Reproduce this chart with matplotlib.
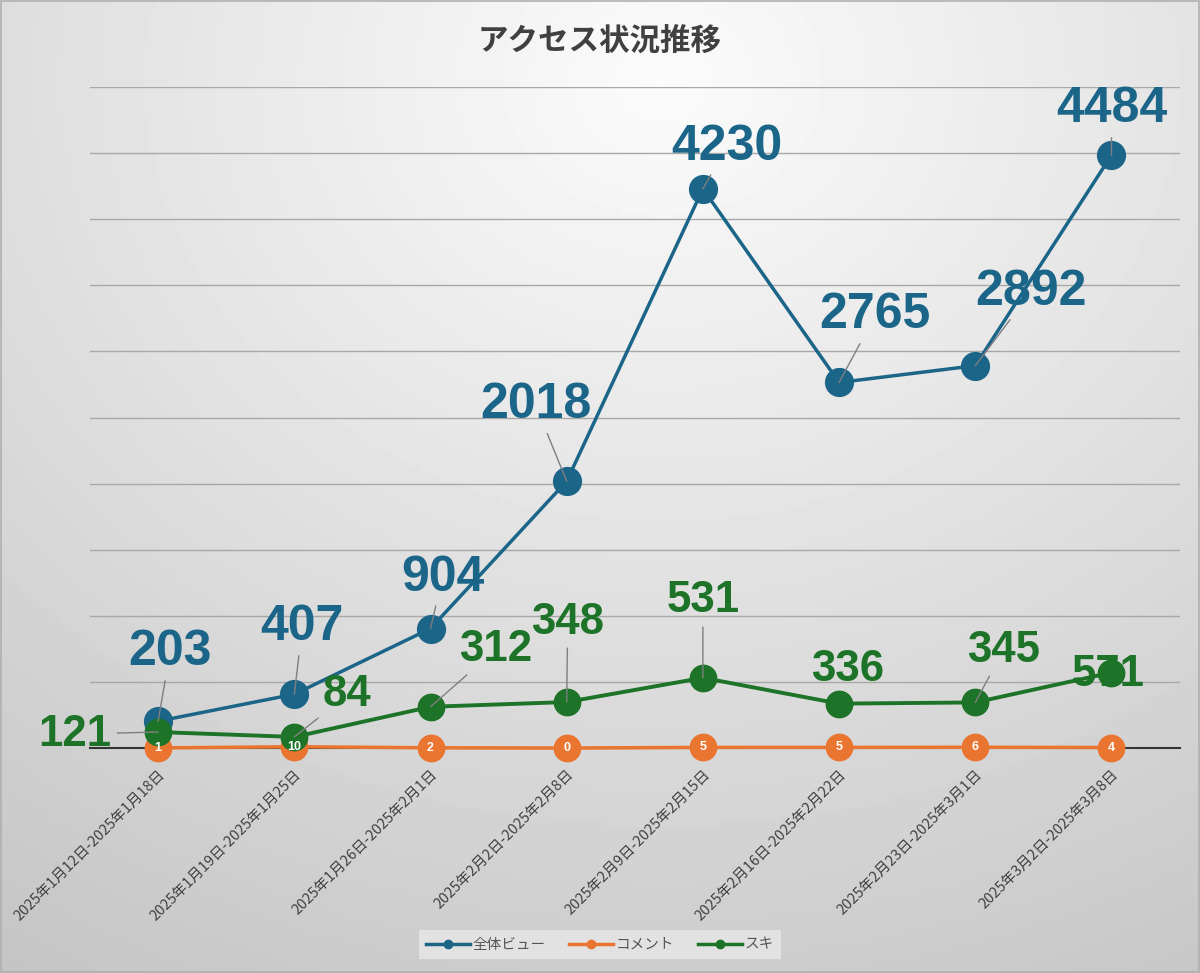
import numpy as np
import matplotlib.pyplot as plt
from matplotlib.lines import Line2D

plt.rcParams['font.family'] = ['Noto Sans CJK JP', 'DejaVu Sans']

# data
weeks = ['2025年1月12日-2025年1月18日', '2025年1月19日-2025年1月25日',
         '2025年1月26日-2025年2月1日', '2025年2月2日-2025年2月8日',
         '2025年2月9日-2025年2月15日', '2025年2月16日-2025年2月22日',
         '2025年2月23日-2025年3月1日', '2025年3月2日-2025年3月8日']
views = [203, 407, 904, 2018, 4230, 2765, 2892, 4484]
comments = [1, 10, 2, 0, 5, 5, 6, 4]
likes = [121, 84, 312, 348, 531, 336, 345, 571]

c_blue = '#1b6589'
c_orange = '#ea7530'
c_green = '#1d7328'

# label offsets in pixels (layout only)
views_off = [(12, 69), (8, 67), (12, 51), (-31, 76), (24, 42), (36, 67), (56, 74), (0, 46)]
likes_off = [(-83, -2), (53, 42), (65, 57), (1, 80), (0, 77), (9, 34), (28, 52), (-3, -2)]

fig = plt.figure(figsize=(12, 9.73), dpi=100)

# background gradient
bg = fig.add_axes([0, 0, 1, 1], zorder=-10)
h, w = 200, 240
yy, xx = np.mgrid[0:h, 0:w]
r = np.sqrt(((xx / w) - 0.55) ** 2 + (((yy / h) - 0.08) * 0.95) ** 2)
img = np.clip(0.985 - 0.21 * r, 0, 1)
bg.imshow(img, cmap='gray', vmin=0, vmax=1, aspect='auto', extent=[0, 1, 0, 1], origin='upper')
bg.set_axis_off()
fig.patches.append(plt.Rectangle((0.001, 0.001), 0.998, 0.998, transform=fig.transFigure,
                                 fill=False, edgecolor='#b0b0b0', lw=1.2))

ax = fig.add_axes([0.075, 0.2312, 0.908, 0.6794])
ax.set_facecolor('none')
x = np.arange(len(weeks))

ax.set_xlim(-0.5, len(weeks) - 0.5)
ax.set_ylim(0, 5000)
ax.set_yticks(np.arange(500, 5001, 500))
ax.yaxis.grid(True, color='#a8a8a8', lw=1)
ax.set_axisbelow(True)
ax.tick_params(axis='y', length=0, labelleft=False)
for s in ['top', 'right', 'left']:
    ax.spines[s].set_visible(False)
ax.spines['bottom'].set_color('#333333')
ax.spines['bottom'].set_linewidth(1.5)
ax.set_xticks(x)
ax.set_xticklabels(weeks, rotation=45, ha='right', rotation_mode='anchor',
                   fontsize=10.5, color='#404040')
ax.tick_params(axis='x', length=0, pad=14)

ax.plot(x, comments, color=c_orange, lw=2.5, marker='o', ms=19, zorder=3, clip_on=False)
ax.plot(x, views, color=c_blue, lw=2.5, marker='o', ms=20, zorder=4, clip_on=False)
ax.plot(x, likes, color=c_green, lw=2.8, marker='o', ms=19, zorder=5, clip_on=False)

for xi, v in zip(x, comments):
    ax.text(xi, v, str(v), color='white', fontsize=9, fontweight='bold',
            ha='center', va='center', zorder=6, family='Liberation Sans')


def labels(vals, offs, color, size):
    for xi, v, (dx, dy) in zip(x, vals, offs):
        lead = np.hypot(dx, dy) > 40
        ax.annotate(str(v), (xi, v), xytext=(dx, dy), textcoords='offset pixels',
                    ha='center', va='center', color=color, fontsize=size,
                    fontweight='bold', family='Liberation Sans', zorder=7,
                    annotation_clip=False,
                    arrowprops=dict(arrowstyle='-', color='#7f7f7f', lw=1,
                                    shrinkA=2, shrinkB=0) if lead else None)


labels(views, views_off, c_blue, 36)
labels(likes, likes_off, c_green, 31.5)

fig.text(0.5, 0.958, 'アクセス状況推移', ha='center', va='center', fontsize=22,
         fontweight='bold', color='#404040')

handles = [Line2D([], [], color=c, lw=2.5, marker='o', ms=6) for c in (c_blue, c_orange, c_green)]
leg = fig.legend(handles, ['全体ビュー', 'コメント', 'スキ'], loc='center',
                 bbox_to_anchor=(0.5, 0.029), ncol=3, frameon=True, fontsize=10.5,
                 handlelength=3, handletextpad=0.2, columnspacing=1.6,
                 borderpad=0.5, fancybox=False)
leg.get_frame().set_facecolor('#e2e2e2')
leg.get_frame().set_edgecolor('none')
leg.get_frame().set_alpha(1)
for t in leg.get_texts():
    t.set_color('#555555')

fig.savefig('out.png', dpi=100)
